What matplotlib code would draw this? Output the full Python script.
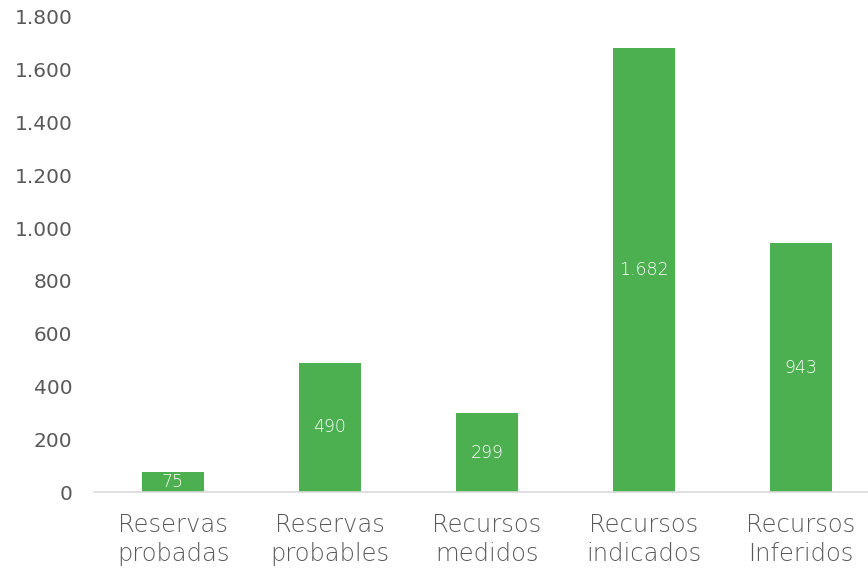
import matplotlib
matplotlib.use("Agg")
import matplotlib.pyplot as plt
from matplotlib.ticker import FuncFormatter

categories = ["Reservas\nprobadas", "Reservas\nprobables", "Recursos\nmedidos",
              "Recursos\nindicados", "Recursos\nInferidos"]
values = [75, 490, 299, 1682, 943]
yticks = [0, 200, 400, 600, 800, 1000, 1200, 1400, 1600, 1800]

def fmt(v):
    return f"{int(v):,}".replace(",", ".")

fig = plt.figure(figsize=(8.68, 5.73), dpi=100)
W, H = 868, 573
left, right, bottom, top = 94.5, 94.5 + 5 * 157, 573 - 492, 573 - 17
ax = fig.add_axes([left / W, bottom / H, (right - left) / W, (top - bottom) / H])

x = range(len(categories))
bars = ax.bar(x, values, width=0.4, color="#4CAF50")
ax.set_xlim(-0.5, 4.5)
ax.set_ylim(0, 1800)
ax.set_yticks(yticks)
ax.yaxis.set_major_formatter(FuncFormatter(lambda v, p: fmt(v)))
for s in ["top", "right", "left"]:
    ax.spines[s].set_visible(False)
ax.spines["bottom"].set_color("#d9d9d9")
ax.spines["bottom"].set_linewidth(1.2)
ax.tick_params(axis="y", length=0, pad=16, labelsize=14.5, labelcolor="#595959")
ax.tick_params(axis="x", length=0, pad=15)
ax.set_xticks(list(x))
ax.set_xticklabels(categories, fontsize=17.5, color="#595959", family="DejaVu Sans",
                   fontweight=200, linespacing=1.25)

for b, v in zip(bars, values):
    ax.text(b.get_x() + b.get_width() / 2, v / 2, fmt(v), ha="center", va="center",
            color="white", fontsize=12.5, family="DejaVu Sans", fontweight=200)

fig.savefig("out.png", dpi=100)
